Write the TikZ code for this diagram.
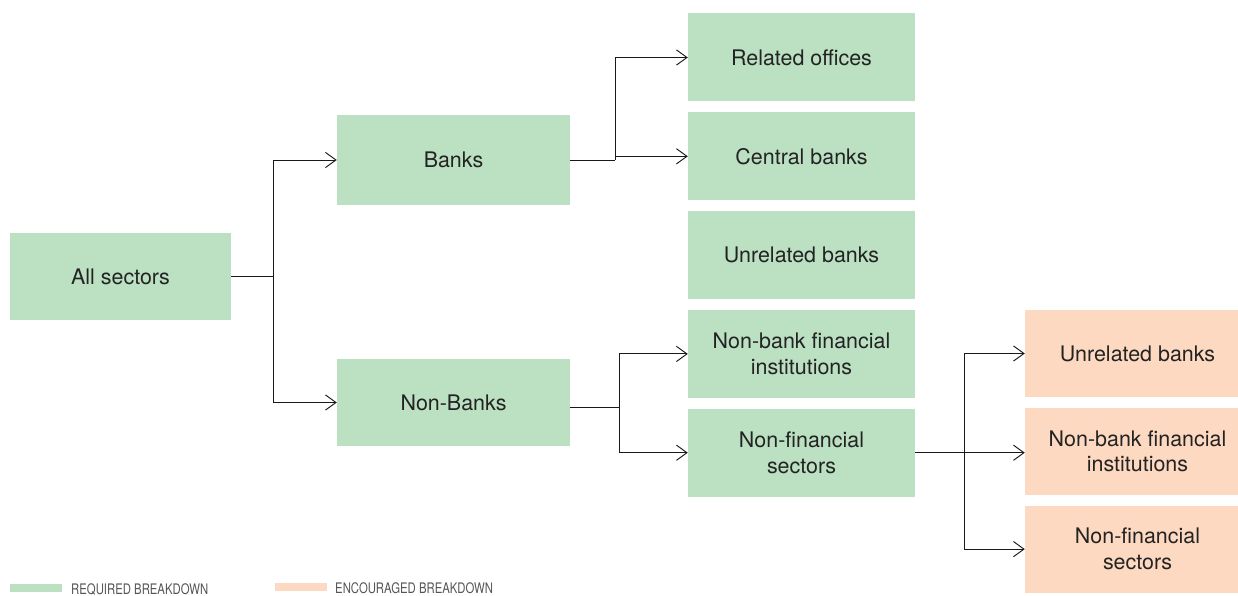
\documentclass[tikz,border=0pt]{standalone}
\usepackage{fontspec}
\setmainfont{TeX Gyre Heros}
\newfontfamily\legendfont[FakeStretch=0.78]{TeX Gyre Heros}
\usetikzlibrary{arrows.meta,positioning,calc}
\definecolor{reqgreen}{RGB}{187,224,194}
\definecolor{encorange}{RGB}{252,217,192}
\definecolor{boxtext}{RGB}{35,35,35}
\definecolor{keytext}{RGB}{85,85,85}

\begin{document}
\begin{tikzpicture}[x=0.03cm,y=-0.03cm,
		reqbox/.style={rectangle,fill=reqgreen,text=boxtext,align=center,inner sep=0pt,
			minimum width=6.81cm,minimum height=2.64cm,
			font=\fontsize{18.3}{22}\selectfont},
		encbox/.style={reqbox,fill=encorange,minimum width=6.75cm,minimum height=2.61cm},
		keybox/.style={rectangle,inner sep=0pt,minimum width=1.56cm,minimum height=0.24cm},
		keylabel/.style={anchor=west,inner sep=0pt,text=keytext,
			font=\legendfont\fontsize{12.4}{13}\selectfont},
		conn/.style={line width=0.8pt,draw=black!90},
		arr/.style={conn,-{Straight Barb[length=9pt,width=13pt,line width=0.8pt]}}
		]
		\useasboundingbox (0,0) rectangle (1238,596);
		
		\node[reqbox, minimum width=6.63cm, minimum height=2.61cm](allsec) at (120.5,276.5){All sectors};
		\node[reqbox, minimum width=6.99cm, minimum height=2.7cm](banks) at (453.5,160){Banks};
		\node[reqbox, minimum width=6.99cm, minimum height=2.61cm](nonbanks) at (453.5,402.5){Non-Banks};
		
		\node[reqbox](relof) at (801.5,57.5){Related offices};
		\node[reqbox, below=0.31cm of relof](centb){Central banks};
		\node[reqbox, below=0.31cm of centb](unrb){Unrelated banks};
		\node[reqbox, below=0.31cm of unrb](nbfi){Non-bank financial\\institutions};
		\node[reqbox, below=0.31cm of nbfi](nfs){Non-financial\\sectors};
		
		\node[encbox](eunrb) at (1137.5,353.5){Unrelated banks};
		\node[encbox, below=0.31cm of eunrb](enbfi){Non-bank financial\\institutions};
		\node[encbox, below=0.31cm of enbfi](enfs){Non-financial\\sectors};
		
		% connectors
		\draw[conn] (allsec.east) -- ++(42,0) coordinate (j1);
		\draw[arr] (j1) |- (banks.west);
		\draw[arr] (j1) |- (nonbanks.west);
		
		\draw[conn] (banks.east) -- ++(45,0) coordinate (j2);
		\draw[arr] (j2) |- (relof.west);
		\draw[arr] (j2) |- (centb.west);
		
		\draw[conn] (nonbanks.east) ++(0,5) -- ++(49,0) coordinate (j3);
		\draw[arr] (j3) |- (nbfi.west);
		\draw[arr] (j3) |- (nfs.west);
		
		\draw[arr] (nfs.east) -- (nfs.east -| enbfi.west);
		\coordinate (j4) at ($(nfs.east)!0.45!(nfs.east -| enbfi.west)$);
		\draw[arr] (j4) |- (eunrb.west);
		\draw[arr] (j4) |- (enfs.west);
		
		% legend
		\node[keybox, fill=reqgreen](reqkey) at (36,588){};
		\node[keylabel](reqlab) at (71,589){REQUIRED BREAKDOWN};
		\node[keybox, fill=encorange](enckey) at (300.5,587){};
		\node[keylabel](enclab) at (335,588){ENCOURAGED BREAKDOWN};
	\end{tikzpicture}
\end{document}
